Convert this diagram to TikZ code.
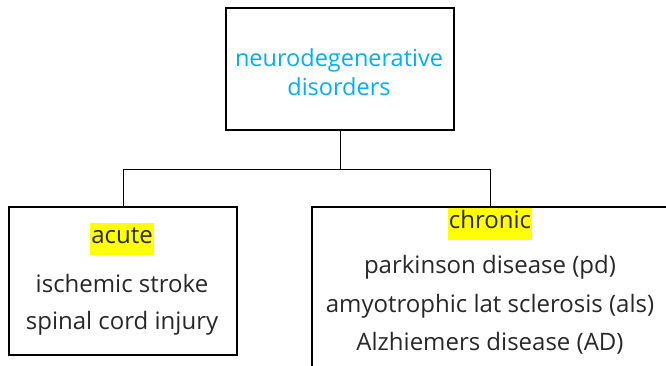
\documentclass[tikz,border=0pt]{standalone}
\usepackage{fontspec}
\setmainfont{Open Sans}
\definecolor{titleblue}{RGB}{0,176,240}
\definecolor{textgray}{RGB}{40,40,40}
\definecolor{marker}{RGB}{255,255,0}
\tikzset{every picture/.style={line width=1pt}}

\begin{document}
\begin{tikzpicture}[x=1pt,y=-1pt,
    box/.style={draw, line width=1.3pt, inner sep=0pt},
    entry/.style={text=textgray, font=\fontsize{24}{28}\selectfont, inner sep=0pt},
    marked/.style={entry, fill=marker, inner xsep=1pt, inner ysep=2pt, text height=18pt, text depth=10pt}]
    \useasboundingbox (0,0) rectangle (666,365);
    \clip (0,0) rectangle (666,365);
    % boxes
    \node[box, minimum width=228pt, minimum height=122pt] (top) at (340,69) {};
    \node[box, minimum width=228pt, minimum height=148pt] (acute) at (123,281) {};
    \node[box, minimum width=356pt, minimum height=200pt] (chronic) at (490,307) {};
    % title
    \node[text=titleblue, font=\fontsize{23.5}{29}\selectfont, align=center, inner sep=0pt] (title) at (339,72) {neurodegenerative\\disorders};
    % acute list
    \node[marked] (acutehead) at (122,239) {acute};
    \node[entry] (stroke) at (122,283) {ischemic stroke};
    \node[entry] (spinal) at (122,323) {spinal cord injury};
    % chronic list
    \node[marked] (chronichead) at (490,224) {chronic};
    \node[entry] (pd) at (490,267) {parkinson disease (pd)};
    \node[entry] (als) at (490,306) {amyotrophic lat sclerosis (als)};
    \node[entry] (ad) at (490,343) {Alzhiemers disease (AD)};
    % connectors
    \coordinate (split) at (340,169);
    \draw (top.south) -- (split);
    \draw (split) -| (acute.north);
    \draw (split) -| (chronic.north);
\end{tikzpicture}
\end{document}
